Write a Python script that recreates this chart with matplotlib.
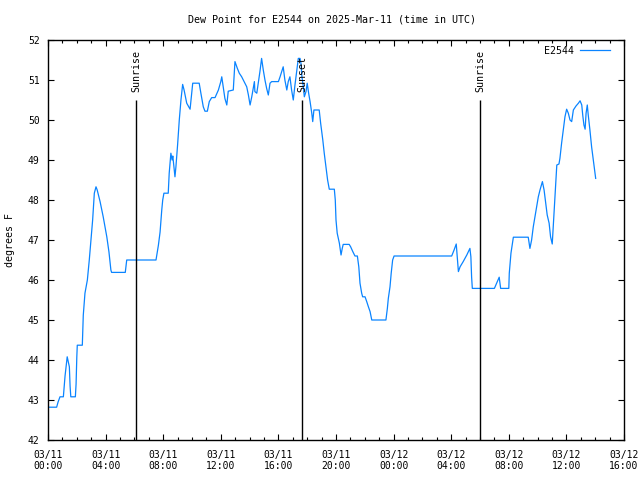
import matplotlib
matplotlib.use("Agg")
import matplotlib.pyplot as plt
import matplotlib.dates as mdates
import pandas as pd

start = "2025-03-11 00:00"
end = "2025-03-12 16:00"

minutes = [0, 36, 42, 50, 64, 71, 80, 89, 92, 95, 114, 117, 120, 122, 143, 147, 154, 164, 172, 182,
           186, 193, 200, 205, 217, 230, 245, 254, 262, 265, 322, 328, 450, 460, 467, 474, 478, 483, 501, 505,
           512, 517, 520, 529, 533, 540, 547, 554, 561, 567, 578, 592, 599, 603, 630, 637, 647, 654, 664, 672,
           682, 696, 710, 720, 724, 730, 737, 745, 751, 772, 779, 789, 797, 807, 817, 828, 835, 842, 849, 855,
           860, 862, 870, 876, 883, 890, 897, 904, 911, 918, 925, 932, 960, 967, 974, 980, 987, 995, 1001, 1008,
           1015, 1022, 1029, 1036, 1043, 1050, 1054, 1058, 1064, 1068, 1075, 1080, 1086, 1092, 1099, 1103, 1108, 1130, 1136, 1145,
           1151, 1158, 1165, 1172, 1193, 1197, 1200, 1205, 1214, 1221, 1226, 1230, 1255, 1261, 1270, 1279, 1289, 1295, 1300, 1307,
           1311, 1321, 1328, 1335, 1342, 1349, 1408, 1414, 1418, 1425, 1430, 1436, 1442, 1682, 1692, 1701, 1706, 1710, 1717, 1730,
           1745, 1758, 1762, 1765, 1768, 1860, 1880, 1886, 1920, 1922, 1929, 1939, 2001, 2008, 2015, 2022, 2029, 2036, 2043, 2050,
           2060, 2067, 2074, 2080, 2088, 2094, 2101, 2106, 2113, 2120, 2129, 2133, 2140, 2147, 2154, 2161, 2168, 2175, 2182, 2189,
           2200, 2210, 2217, 2224, 2228, 2233, 2238, 2242, 2247, 2251, 2258, 2265, 2272, 2279, 2282]

dewpoint = [42.82, 42.82, 42.95, 43.08, 43.08, 43.6, 44.08, 43.83, 43.35, 43.08, 43.08, 43.4, 44.07, 44.37, 44.37, 45.12, 45.67, 46.0, 46.5, 47.2,
            47.5, 48.17, 48.33, 48.25, 47.96, 47.58, 47.08, 46.7, 46.25, 46.19, 46.19, 46.5, 46.5, 46.87, 47.2, 47.75, 48.0, 48.17, 48.17, 48.67,
            49.17, 49.0, 49.1, 48.58, 48.83, 49.38, 50.0, 50.5, 50.89, 50.75, 50.42, 50.27, 50.67, 50.92, 50.92, 50.67, 50.33, 50.22, 50.22, 50.46,
            50.56, 50.56, 50.75, 50.96, 51.08, 50.83, 50.54, 50.375, 50.72, 50.75, 51.46, 51.29, 51.17, 51.08, 50.96, 50.83, 50.625, 50.375, 50.58, 50.79,
            50.96, 50.71, 50.67, 50.92, 51.21, 51.54, 51.25, 51.0, 50.79, 50.625, 50.92, 50.96, 50.96, 51.08, 51.21, 51.33, 51.0, 50.75, 50.96, 51.08,
            50.75, 50.5, 50.875, 51.21, 51.54, 51.54, 51.42, 51.08, 50.83, 50.58, 50.71, 50.92, 50.67, 50.46, 50.17, 49.96, 50.25, 50.25, 49.92, 49.5,
            49.17, 48.83, 48.5, 48.27, 48.27, 48.0, 47.5, 47.17, 46.92, 46.625, 46.79, 46.89, 46.89, 46.83, 46.71, 46.6, 46.6, 46.33, 45.92, 45.67,
            45.58, 45.58, 45.46, 45.33, 45.21, 45.0, 45.0, 45.29, 45.54, 45.83, 46.17, 46.5, 46.6, 46.6, 46.75, 46.9, 46.5, 46.21, 46.33, 46.46,
            46.625, 46.79, 46.58, 46.08, 45.79, 45.79, 46.07, 45.79, 45.79, 46.17, 46.67, 47.07, 47.07, 46.79, 47.0, 47.33, 47.58, 47.83, 48.08, 48.25,
            48.46, 48.25, 47.92, 47.625, 47.42, 47.08, 46.9, 47.42, 48.17, 48.875, 48.9, 49.04, 49.42, 49.75, 50.08, 50.27, 50.17, 50.0, 49.96, 50.25,
            50.35, 50.42, 50.48, 50.375, 50.125, 49.875, 49.77, 50.17, 50.375, 50.125, 49.75, 49.33, 49.0, 48.67, 48.54]

event_times = ["2025-03-11 06:07", "2025-03-11 17:38", "2025-03-12 06:00"]
event_labels = ["Sunrise", "Sunset", "Sunrise"]
event_top = 50.5

series_name = "E2544"
title = "Dew Point for E2544 on 2025-Mar-11 (time in UTC)"
ylabel = "degrees F"
yticks = [42, 43, 44, 45, 46, 47, 48, 49, 50, 51, 52]

plt.rcParams['font.family'] = ['DejaVu Sans Mono']
plt.rcParams['font.size'] = 7

fig = plt.figure(figsize=(6.4, 4.8), dpi=100)
ax = fig.add_axes([48/640, 40/480, 576/640, 400/480])

t0 = pd.Timestamp(start)
times = t0 + pd.to_timedelta(minutes, unit="m")
line_color = "#0a84ff"
ax.plot(times, dewpoint, color=line_color, lw=0.9, label=series_name)

for et, lab in zip(event_times, event_labels):
    ts = pd.Timestamp(et)
    ax.vlines(ts, 42, event_top, colors="black", lw=1.0)
    ax.text(ts, event_top + 0.2, lab, rotation=90, ha="center", va="bottom", fontsize=7.2)

ax.set_xlim(pd.Timestamp(start), pd.Timestamp(end))
ax.set_ylim(42, 52)
ax.set_yticks(yticks)
ax.xaxis.set_major_locator(mdates.HourLocator(byhour=range(0, 24, 4)))
ax.xaxis.set_minor_locator(mdates.HourLocator())
ax.xaxis.set_major_formatter(mdates.DateFormatter("%m/%d\n%H:%M"))
ax.tick_params(axis="both", which="major", direction="in", length=4, width=0.8,
               top=True, right=True, labelsize=7)
ax.tick_params(axis="x", which="major", pad=7)
ax.tick_params(axis="y", which="major", pad=6)
ax.tick_params(axis="x", which="minor", direction="in", length=2, width=0.8, top=True)
for sp in ax.spines.values():
    sp.set_linewidth(1.0)

fig.text(332/640, 1 - 20/480, title, ha="center", va="center", fontsize=7.2)
fig.text(10/640, 0.5, ylabel, rotation=90, ha="center", va="center", fontsize=7.2)

leg = ax.legend(loc="upper right", bbox_to_anchor=(0.979, 0.99), frameon=False,
                fontsize=7.2, handlelength=3.0, markerfirst=False, borderaxespad=0.0,
                borderpad=0.2, handletextpad=0.6)

fig.savefig("out.png", dpi=100)
